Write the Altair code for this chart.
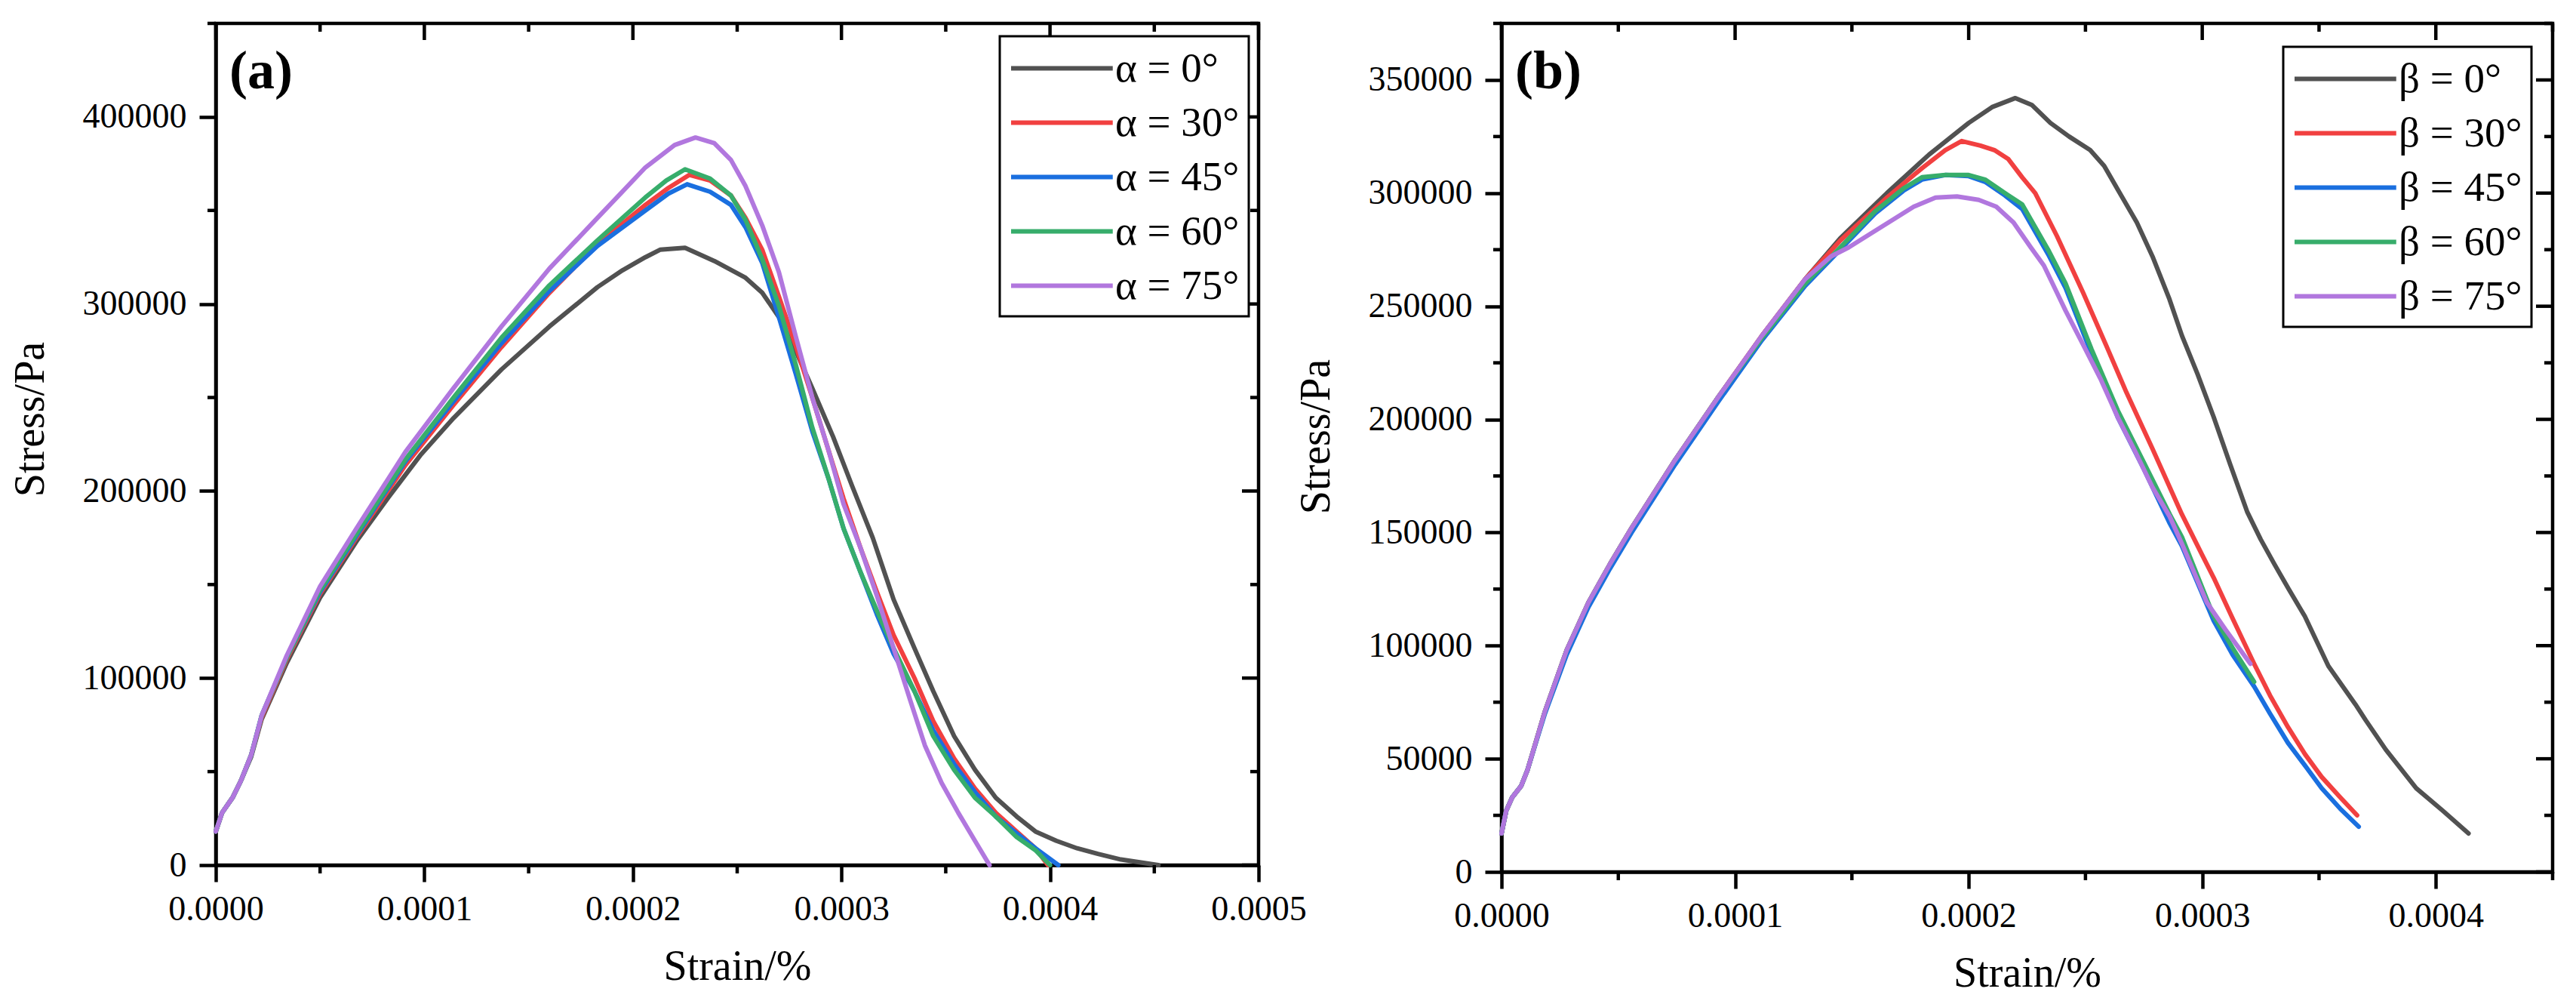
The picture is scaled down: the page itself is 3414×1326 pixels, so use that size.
import altair as alt
import pandas as pd

# strain values are in units of 1e-4 (converted below), stress in Pa
alpha_labels = ['α = 0°', 'α = 30°', 'α = 45°', 'α = 60°', 'α = 75°']
beta_labels = ['β = 0°', 'β = 30°', 'β = 45°', 'β = 60°', 'β = 75°']
line_colors = ['#515151', '#F14040', '#1A6FDF', '#37AD6B', '#B177DE']
panel_tags = ['(a)', '(b)']

a0_strain = [0, 0.03, 0.08, 0.12, 0.17, 0.22, 0.34, 0.50, 0.68, 0.83, 0.98, 1.14, 1.37, 1.60, 1.83, 1.95, 2.06,
             2.13, 2.25, 2.39, 2.54, 2.62, 2.70, 2.78, 2.86, 2.96, 3.05, 3.15, 3.25, 3.35, 3.44, 3.54, 3.64, 3.74,
             3.84, 3.93, 4.03, 4.13, 4.23, 4.34, 4.52]
a0_stress = [18000, 28000, 36000, 45000, 58000, 78000, 108000, 143000, 174000, 197000, 219000, 239000, 265000,
             288000, 309000, 318000, 325000, 329000, 330000, 323000, 314000, 306000, 293000, 275000, 255000,
             229000, 203000, 175000, 142000, 116000, 93000, 69000, 51000, 36000, 26000, 18000, 13000, 9000, 6000,
             3000, 0]

a30_strain = [0, 0.03, 0.08, 0.12, 0.17, 0.22, 0.34, 0.50, 0.68, 0.91, 1.14, 1.37, 1.60, 1.83, 2.06, 2.17, 2.27,
              2.37, 2.47, 2.54, 2.62, 2.70, 2.78, 2.86, 2.94, 3.01, 3.09, 3.17, 3.25, 3.35, 3.44, 3.54, 3.64, 3.74,
              3.84, 3.93, 3.99]
a30_stress = [18000, 28000, 36000, 45000, 59000, 79000, 110000, 145000, 176000, 214000, 246000, 277000, 306000,
              332000, 353000, 362000, 369000, 366000, 358000, 346000, 329000, 304000, 278000, 250000, 221000,
              196000, 170000, 146000, 123000, 100000, 77000, 57000, 41000, 28000, 18000, 9000, 0]

a45_strain = [0, 0.03, 0.08, 0.12, 0.17, 0.22, 0.34, 0.50, 0.68, 0.91, 1.14, 1.37, 1.60, 1.83, 2.06, 2.17, 2.26,
              2.37, 2.47, 2.54, 2.62, 2.70, 2.78, 2.86, 2.94, 3.01, 3.09, 3.17, 3.25, 3.35, 3.44, 3.54, 3.64, 3.74,
              3.84, 3.93, 4.04]
a45_stress = [18000, 28000, 36000, 45000, 59000, 80000, 111000, 146000, 177000, 216000, 248000, 279000, 307000,
              331000, 350000, 359000, 364000, 360000, 353000, 341000, 322000, 293000, 263000, 232000, 206000,
              180000, 157000, 134000, 113000, 93000, 72000, 54000, 39000, 26000, 17000, 9000, 0]

a60_strain = [0, 0.03, 0.08, 0.12, 0.17, 0.22, 0.34, 0.50, 0.68, 0.91, 1.14, 1.37, 1.60, 1.83, 2.06, 2.16, 2.25,
              2.37, 2.47, 2.54, 2.62, 2.70, 2.78, 2.86, 2.94, 3.01, 3.09, 3.17, 3.25, 3.35, 3.44, 3.54, 3.64, 3.74,
              3.84, 3.93, 4.00]
a60_stress = [18000, 28000, 36000, 45000, 59000, 80000, 111000, 147000, 178000, 217000, 250000, 282000, 310000,
              334000, 357000, 366000, 372000, 367000, 358000, 345000, 324000, 299000, 268000, 234000, 206000,
              180000, 157000, 136000, 116000, 93000, 69000, 51000, 36000, 26000, 15000, 8000, 0]

a75_strain = [0, 0.03, 0.08, 0.12, 0.17, 0.22, 0.34, 0.50, 0.68, 0.91, 1.14, 1.37, 1.60, 1.83, 2.06, 2.20, 2.30,
              2.39, 2.47, 2.54, 2.62, 2.70, 2.78, 2.86, 2.94, 3.01, 3.09, 3.17, 3.25, 3.33, 3.40, 3.48, 3.56, 3.64,
              3.71]
a75_stress = [18000, 28000, 36000, 45000, 59000, 80000, 112000, 149000, 181000, 221000, 255000, 288000, 319000,
              346000, 373000, 385000, 389000, 386000, 377000, 363000, 342000, 317000, 283000, 250000, 221000,
              193000, 170000, 144000, 116000, 88000, 64000, 44000, 28000, 13000, 0]

b0_strain = [0, 0.02, 0.046, 0.084, 0.111, 0.186, 0.279, 0.372, 0.464, 0.557, 0.743, 0.929, 1.115, 1.30, 1.45,
             1.65, 1.83, 2.0, 2.1, 2.2, 2.27, 2.35, 2.43, 2.52, 2.58, 2.647, 2.72, 2.787, 2.86, 2.913, 2.98, 3.049,
             3.12, 3.193, 3.25, 3.309, 3.37, 3.439, 3.54, 3.656, 3.70, 3.786, 3.916, 4.03, 4.14]
b0_stress = [17000, 27000, 33000, 38000, 45000, 71000, 98000, 119000, 136000, 152000, 182000, 210000, 237000,
             262000, 280000, 300000, 317000, 331000, 338000, 342000, 339000, 331000, 325000, 319000, 312000,
             300000, 287000, 272000, 253000, 237000, 220000, 201000, 180000, 159000, 147000, 136000, 125000,
             113000, 91000, 74000, 67000, 54000, 37000, 27000, 17000]

b30_strain = [0, 0.02, 0.046, 0.084, 0.111, 0.186, 0.279, 0.372, 0.464, 0.557, 0.743, 0.929, 1.115, 1.30, 1.45,
              1.65, 1.80, 1.90, 1.97, 2.05, 2.11, 2.17, 2.229, 2.285, 2.378, 2.49, 2.60, 2.675, 2.787, 2.913, 3.0,
              3.049, 3.13, 3.222, 3.29, 3.367, 3.44, 3.511, 3.59, 3.663]
b30_stress = [17000, 27000, 33000, 38000, 45000, 71000, 98000, 119000, 136000, 152000, 182000, 210000, 237000,
              262000, 279000, 298000, 311000, 319000, 323000, 321000, 319000, 315000, 307000, 300000, 281000,
              256000, 230000, 212000, 187000, 158000, 140000, 130000, 112000, 92000, 78000, 64000, 52000, 42000,
              33000, 25000]

b45_strain = [0, 0.02, 0.046, 0.084, 0.111, 0.186, 0.279, 0.372, 0.464, 0.557, 0.743, 0.929, 1.115, 1.30, 1.45,
              1.60, 1.72, 1.80, 1.90, 2.0, 2.07, 2.155, 2.229, 2.34, 2.415, 2.526, 2.638, 2.75, 2.861, 2.913, 3.049,
              3.13, 3.222, 3.29, 3.367, 3.44, 3.511, 3.59, 3.67]
b45_stress = [17000, 27000, 33000, 38000, 45000, 70000, 96000, 117000, 134000, 150000, 180000, 208000, 235000,
              259000, 275000, 291000, 301000, 306000, 308000, 307500, 305000, 299000, 293000, 273000, 258000,
              229000, 201000, 178000, 154000, 144000, 111000, 96000, 82000, 70000, 57000, 47000, 37000, 28000,
              20000]

b60_strain = [0, 0.02, 0.046, 0.084, 0.111, 0.186, 0.279, 0.372, 0.464, 0.557, 0.743, 0.929, 1.115, 1.30, 1.45,
              1.60, 1.72, 1.80, 1.90, 2.0, 2.07, 2.155, 2.229, 2.34, 2.415, 2.526, 2.638, 2.75, 2.861, 2.913, 3.049,
              3.13, 3.222]
b60_stress = [17000, 27000, 33000, 38000, 45000, 71000, 98000, 119000, 136000, 152000, 182000, 210000, 236000,
              260000, 276000, 292000, 302000, 307000, 308000, 308000, 306000, 300000, 295000, 275000, 260000,
              231000, 204000, 181000, 158000, 148000, 113000, 99000, 84000]

b75_strain = [0, 0.02, 0.046, 0.084, 0.111, 0.186, 0.279, 0.372, 0.464, 0.557, 0.743, 0.929, 1.115, 1.30, 1.41,
              1.486, 1.579, 1.672, 1.765, 1.858, 1.95, 2.043, 2.118, 2.192, 2.266, 2.322, 2.378, 2.415, 2.49, 2.564,
              2.638, 2.712, 2.787, 2.861, 2.913, 3.02, 3.10, 3.206]
b75_stress = [17000, 27000, 33000, 38000, 45000, 71000, 98000, 119000, 136000, 152000, 182000, 210000, 237000,
              262000, 272000, 276000, 282000, 288000, 294000, 298000, 298500, 297000, 294000, 287000, 276000,
              268000, 256000, 248000, 233000, 218000, 201000, 186000, 170000, 157000, 145000, 119000, 107000, 92000]

# axis ticks
a_x_major = [0, 0.0001, 0.0002, 0.0003, 0.0004, 0.0005]
a_x_minor = [0.00005, 0.00015, 0.00025, 0.00035, 0.00045]
a_y_major = [0, 100000, 200000, 300000, 400000]
a_y_minor = [50000, 150000, 250000, 350000, 450000]
b_x_major = [0, 0.0001, 0.0002, 0.0003, 0.0004]
b_x_minor = [0.00005, 0.00015, 0.00025, 0.00035, 0.00045]
b_y_major = [0, 50000, 100000, 150000, 200000, 250000, 300000, 350000]
b_y_minor = [25000, 75000, 125000, 175000, 225000, 275000, 325000, 375000]

FONT = 'Liberation Serif'
AXW = 4.5


def make_frame(labels, strains, stresses):
    rows = []
    for lab, xs, ys in zip(labels, strains, stresses):
        for i, (x, y) in enumerate(zip(xs, ys)):
            rows.append({'series': lab, 'strain': x * 1e-4, 'stress': y, 'idx': i})
    return pd.DataFrame(rows)


def panel(df, labels, x_dom, y_dom, xmaj, xmin, ymaj, ymin, tag, w, h, leg_x, leg_y, title_y):
    x_axis = alt.Axis(values=xmaj, format='.4f', title='Strain/%')
    y_axis = alt.Axis(values=ymaj, format='d', title='Stress/Pa', titleY=title_y)
    x_scale = alt.Scale(domain=x_dom, nice=False, zero=False)
    y_scale = alt.Scale(domain=y_dom, nice=False)

    lines = alt.Chart(df).mark_line(strokeWidth=6, strokeCap='round', strokeJoin='round').encode(
        x=alt.X('strain:Q', scale=x_scale, axis=x_axis),
        y=alt.Y('stress:Q', scale=y_scale, axis=y_axis),
        color=alt.Color('series:N', scale=alt.Scale(domain=labels, range=line_colors),
                        legend=alt.Legend(orient='none', legendX=leg_x, legendY=leg_y, title=None,
                                          symbolType='M-1,0L3.9,0', symbolSize=3025, symbolStrokeWidth=6,
                                          labelFont=FONT, labelFontSize=55, labelColor='black',
                                          labelOffset=80, labelLimit=500, rowPadding=13, padding=12,
                                          strokeColor='black', fillColor='white')),
        order='idx:Q'
    )

    def rules(vals, along, start, end):
        base = alt.Chart(pd.DataFrame({'v': vals})).mark_rule(color='black', strokeWidth=AXW)
        if along == 'x':
            return base.encode(x=alt.X('v:Q', scale=x_scale, axis=x_axis),
                               y=alt.value(start), y2=alt.value(end))
        return base.encode(y=alt.Y('v:Q', scale=y_scale, axis=y_axis),
                           x=alt.value(start), x2=alt.value(end))

    ticks = [
        rules(xmin, 'x', h, h + 11),
        rules(xmaj, 'x', 0, 22),
        rules(xmin, 'x', 0, 11),
        rules(ymin, 'y', 0, -11),
        rules(ymaj, 'y', w, w - 22),
        rules(ymin, 'y', w, w - 11),
    ]
    label = alt.Chart(pd.DataFrame({'t': [tag]})).mark_text(
        font=FONT, fontSize=72, fontWeight='bold', align='left', baseline='middle', color='black'
    ).encode(x=alt.value(18), y=alt.value(64), text='t:N')
    return alt.layer(lines, *ticks, label).properties(width=w, height=h)


df_a = make_frame(alpha_labels,
                  [a0_strain, a30_strain, a45_strain, a60_strain, a75_strain],
                  [a0_stress, a30_stress, a45_stress, a60_stress, a75_stress])
df_b = make_frame(beta_labels,
                  [b0_strain, b30_strain, b45_strain, b60_strain, b75_strain],
                  [b0_stress, b30_stress, b45_stress, b60_stress, b75_stress])

left = panel(df_a, alpha_labels, [0, 0.0005], [0, 450000], a_x_major, a_x_minor, a_y_major, a_y_minor,
             panel_tags[0], 1382, 1115, 1039, 17, 524)
right = panel(df_b, beta_labels, [0, 0.00045], [0, 375000], b_x_major, b_x_minor, b_y_major, b_y_minor,
              panel_tags[1], 1393, 1124, 1036, 31, 547)

chart = alt.hconcat(left, right, spacing=322, bounds='flush').resolve_scale(
    x='independent', y='independent', color='independent'
).properties(
    padding={'left': 1, 'top': 18, 'right': 5, 'bottom': 5}
).configure_view(
    stroke='black', strokeWidth=AXW
).configure_axis(
    domainColor='black', domainWidth=AXW, tickColor='black', tickWidth=AXW, tickSize=22,
    labelFont=FONT, labelFontSize=46, labelColor='black', labelFlush=False, labelOverlap=False,
    titleFont=FONT, titleFontSize=56, titleFontWeight='normal', titleColor='black', grid=False
).configure_axisX(
    labelPadding=14, titlePadding=26
).configure_axisY(
    labelPadding=17, titlePadding=40
).configure_legend(
    strokeWidth=3, cornerRadius=0
)

chart.save("out.html", embed_options={"renderer": "svg", "actions": False})
